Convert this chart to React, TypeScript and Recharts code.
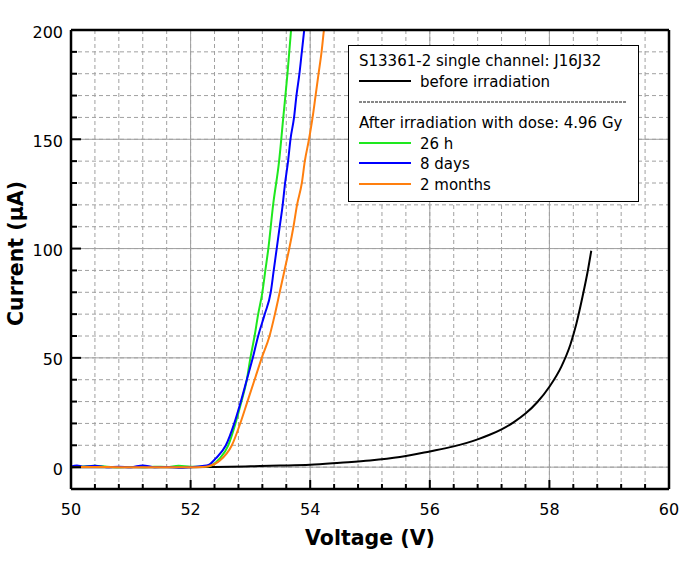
import React from "react";
import {
  CartesianGrid,
  Legend,
  Line,
  LineChart,
  ReferenceLine,
  XAxis,
  YAxis,
} from "recharts";

// axis ticks (minor every 0.4 V / 10 µA, labelled majors)
const X_TICKS = [
  50, 50.4, 50.8, 51.2, 51.6, 52, 52.4, 52.8, 53.2, 53.6, 54, 54.4, 54.8, 55.2,
  55.6, 56, 56.4, 56.8, 57.2, 57.6, 58, 58.4, 58.8, 59.2, 59.6, 60,
];
const X_MAJOR = [50, 52, 54, 56, 58, 60];
const Y_TICKS = [
  -10, 0, 10, 20, 30, 40, 50, 60, 70, 80, 90, 100, 110, 120, 130, 140, 150, 160,
  170, 180, 190, 200,
];
const Y_MAJOR = [0, 50, 100, 150, 200];

// before irradiation
const BEFORE_V = [
  50, 51, 52, 52.4, 53, 53.5, 54, 54.5, 55, 55.5, 56, 56.4, 56.8, 57.0, 57.2,
  57.4, 57.6, 57.8, 58, 58.2, 58.35, 58.45, 58.55, 58.65, 58.7,
];
const BEFORE_I = [
  0, 0, 0, 0.1, 0.4, 0.7, 1.1, 2, 3, 4.6, 7.2, 9.5, 12.7, 14.8, 17.3, 20.5,
  24.5, 29.8, 36.8, 46, 56, 65.5, 77.5, 91, 99,
];

// 26 h after irradiation
const H26_V = [
  50, 50.2, 50.4, 50.6, 50.8, 51, 51.2, 51.4, 51.6, 51.8, 52, 52.2, 52.3, 52.35,
  52.49, 52.63, 52.75, 52.85, 52.94, 53.0, 53.07, 53.13, 53.2, 53.25, 53.3,
  53.38, 53.48, 53.55, 53.62, 53.68, 53.72,
];
const H26_I = [
  0, 0.3, 0.6, 0.2, 0, 0.1, 0, 0.2, 0.1, 0.6, 0.2, 0.3, 0.4, 0.8, 4, 10, 20, 30,
  40, 50, 60, 70, 80, 90, 100, 120, 140, 160, 180, 200, 212,
];

// 8 days after irradiation
const D8_V = [
  50, 50.1, 50.2, 50.4, 50.6, 50.8, 51, 51.2, 51.4, 51.6, 51.8, 52, 52.2, 52.3,
  52.42, 52.59, 52.73, 52.84, 52.94, 53.04, 53.13, 53.24, 53.34, 53.39, 53.44,
  53.49, 53.54, 53.58, 53.63, 53.67, 53.73, 53.77, 53.82, 53.86, 53.9, 53.93,
];
const D8_I = [
  0.3, 0.8, 0.2, 0.6, 0, 0.2, 0, 0.8, 0, 0.1, -0.3, 0, 0.5, 1, 4, 10, 20, 30,
  40, 50, 60, 70, 80, 90, 100, 110, 120, 130, 140, 150, 160, 170, 180, 190, 200,
  208,
];

// 2 months after irradiation
const M2_V = [
  50, 50.4, 50.8, 51.2, 51.6, 52, 52.2, 52.3, 52.49, 52.69, 52.83, 52.95, 53.07,
  53.19, 53.32, 53.41, 53.49, 53.57, 53.65, 53.72, 53.78, 53.86, 53.91, 53.98,
  54.04, 54.09, 54.14, 54.19, 54.23, 54.26,
];
const M2_I = [
  0, 0.1, 0, 0, 0, 0, 0.1, 0.4, 3, 10, 20, 30, 40, 50, 60, 70, 80, 90, 100, 110,
  120, 130, 140, 150, 160, 170, 180, 190, 200, 206,
];

const zip = (v: number[], i: number[]) => v.map((x, k) => ({ v: x, i: i[k] }));

const SERIES = [
  { name: "before irradiation", color: "#000000", data: zip(BEFORE_V, BEFORE_I) },
  { name: "26 h", color: "#1ee81e", data: zip(H26_V, H26_I) },
  { name: "8 days", color: "#0000ff", data: zip(D8_V, D8_I) },
  { name: "2 months", color: "#ff7f0e", data: zip(M2_V, M2_I) },
];

const FONT = "DejaVu Sans";
const GRID = "#a0a0a0";

const BottomTick = ({ x, y, payload }: any) => {
  const major = X_MAJOR.includes(payload.value);
  return (
    <g>
      <line x1={x} x2={x} y1={y} y2={y - (major ? 9 : 5)} stroke="#000" strokeWidth={2} />
      {major && (
        <text x={x} y={y + 26} textAnchor="middle" fontFamily={FONT} fontSize={16} fill="#000">
          {payload.value}
        </text>
      )}
    </g>
  );
};

const TopTick = ({ x, y, payload }: any) => {
  const major = X_MAJOR.includes(payload.value);
  return <line x1={x} x2={x} y1={y} y2={y + (major ? 9 : 5)} stroke="#000" strokeWidth={2} />;
};

const LeftTick = ({ x, y, payload }: any) => {
  const major = Y_MAJOR.includes(payload.value);
  return (
    <g>
      <line x1={x} x2={x + (major ? 10 : 6)} y1={y} y2={y} stroke="#000" strokeWidth={2} />
      {major && (
        <text x={x - 8} y={y + 7.5} textAnchor="end" fontFamily={FONT} fontSize={16} fill="#000">
          {payload.value}
        </text>
      )}
    </g>
  );
};

const RightTick = ({ x, y, payload }: any) => {
  const major = Y_MAJOR.includes(payload.value);
  return <line x1={x} x2={x - (major ? 10 : 6)} y1={y} y2={y} stroke="#000" strokeWidth={2} />;
};

const LegendBox = () => {
  const row = { height: 20.7, display: "flex", alignItems: "center", whiteSpace: "nowrap" as const };
  const sample = (color: string) => (
    <svg width={52} height={20.7} style={{ marginRight: 9 }}>
      <line x1={0} x2={52} y1={9} y2={9} stroke={color} strokeWidth={2} />
    </svg>
  );
  return (
    <div
      style={{
        width: 291,
        height: 157,
        boxSizing: "border-box",
        border: "1.5px solid #000",
        background: "#fff",
        padding: "5px 0 0 10px",
        fontFamily: FONT,
        fontSize: 15,
        lineHeight: "20.7px",
        color: "#000",
      }}
    >
      <div style={row}>S13361-2 single channel: J16J32</div>
      <div style={row}>
        {sample(SERIES[0].color)}
        {SERIES[0].name}
      </div>
      <div style={row}>
        <svg width={268} height={20.7}>
          <line x1={0} x2={268} y1={10} y2={10} stroke="#111" strokeWidth={1.2} strokeDasharray="3 1" />
        </svg>
      </div>
      <div style={row}>After irradiation with dose: 4.96 Gy</div>
      {SERIES.slice(1).map((s) => (
        <div key={s.name} style={row}>
          {sample(s.color)}
          {s.name}
        </div>
      ))}
    </div>
  );
};

export default function App() {
  return (
    <div style={{ position: "absolute", left: 0, top: 0, width: 696, height: 561, background: "#fff" }}>
      <LineChart width={696} height={561} margin={{ top: 29, right: 26, bottom: 0, left: 0 }}>
        <CartesianGrid stroke={GRID} strokeDasharray="4 3" />
        {X_MAJOR.slice(1, -1).map((v) => (
          <ReferenceLine key={`x${v}`} x={v} stroke={GRID} strokeWidth={1} />
        ))}
        {Y_MAJOR.slice(0, -1).map((v) => (
          <ReferenceLine key={`y${v}`} y={v} stroke={GRID} strokeWidth={1} />
        ))}
        <XAxis
          dataKey="v"
          type="number"
          domain={[50, 60]}
          ticks={X_TICKS}
          interval={0}
          height={72}
          tickSize={0}
          tickMargin={0}
          tickLine={false}
          tick={BottomTick}
          axisLine={{ stroke: "#000", strokeWidth: 2.5 }}
          label={({ viewBox }: any) => (
            <text
              x={viewBox.x + viewBox.width / 2}
              y={viewBox.y + 56}
              textAnchor="middle"
              fontFamily={FONT}
              fontWeight="bold"
              fontSize={20.5}
              fill="#000"
            >
              Voltage (V)
            </text>
          )}
        />
        <XAxis
          xAxisId="top"
          orientation="top"
          type="number"
          domain={[50, 60]}
          ticks={X_TICKS}
          interval={0}
          height={1}
          tickSize={0}
          tickMargin={0}
          tickLine={false}
          tick={TopTick}
          axisLine={{ stroke: "#000", strokeWidth: 2.5 }}
        />
        <YAxis
          type="number"
          domain={[-10, 200]}
          allowDataOverflow
          ticks={Y_TICKS}
          interval={0}
          width={71}
          tickSize={0}
          tickMargin={0}
          tickLine={false}
          tick={LeftTick}
          axisLine={{ stroke: "#000", strokeWidth: 2.5 }}
          label={({ viewBox }: any) => {
            const cx = 23;
            const cy = viewBox.y + viewBox.height / 2 - 6;
            return (
              <text
                x={cx}
                y={cy}
                transform={`rotate(-90, ${cx}, ${cy})`}
                textAnchor="middle"
                fontFamily={FONT}
                fontWeight="bold"
                fontSize={20.5}
                fill="#000"
              >
                Current (µA)
              </text>
            );
          }}
        />
        <YAxis
          yAxisId="right"
          orientation="right"
          type="number"
          domain={[-10, 200]}
          ticks={Y_TICKS}
          interval={0}
          width={1}
          tickSize={0}
          tickMargin={0}
          tickLine={false}
          tick={RightTick}
          axisLine={{ stroke: "#000", strokeWidth: 2.5 }}
        />
        {SERIES.map((s) => (
          <Line
            key={s.name}
            data={s.data}
            dataKey="i"
            name={s.name}
            type="monotone"
            stroke={s.color}
            strokeWidth={2}
            dot={false}
            activeDot={false}
            isAnimationActive={false}
          />
        ))}
        <Legend
          layout="horizontal"
          align="center"
          verticalAlign="middle"
          content={LegendBox}
          wrapperStyle={{ left: 348, top: 45, width: 291, height: 157 }}
        />
      </LineChart>
    </div>
  );
}
